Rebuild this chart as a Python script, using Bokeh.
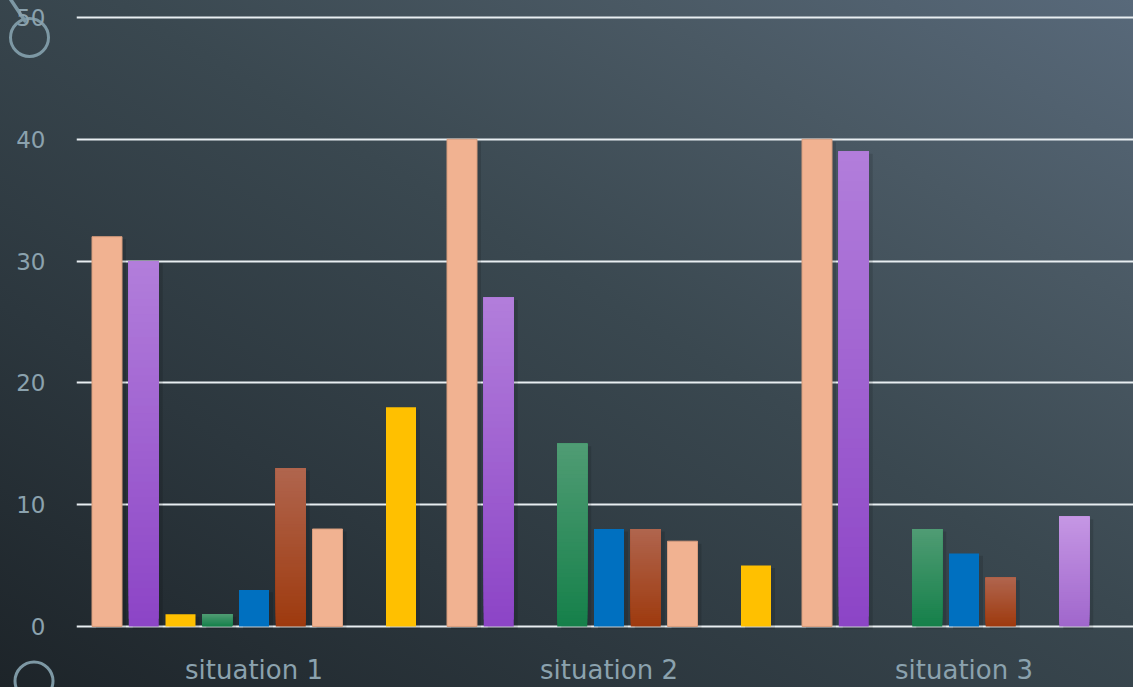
import numpy as np
from bokeh.plotting import figure
from bokeh.models import Range1d, FixedTicker, ColumnDataSource
from bokeh.embed import file_html
from bokeh.resources import INLINE

# ---- data -------------------------------------------------------------
categories = ["situation 1", "situation 2", "situation 3"]
series_1 = [32, 40, 40]
series_2 = [30, 27, 39]
series_3 = [1, 0, 0]
series_4 = [1, 15, 8]
series_5 = [3, 8, 6]
series_6 = [13, 8, 4]
series_7 = [8, 7, 0]
series_8 = [0, 0, 9]
series_9 = [18, 5, 0]
y_ticks = [0, 10, 20, 30, 40, 50]

all_series = [series_1, series_2, series_3, series_4, series_5,
              series_6, series_7, series_8, series_9]

# (bottom colour, top colour) for each series; equal pairs are flat fills
series_colors = [
    ("#f1b291", "#f1b291"),
    ("#8c44c6", "#b27edb"),
    ("#ffc000", "#ffc000"),
    ("#15804a", "#509c74"),
    ("#0070c0", "#0070c0"),
    ("#9e3a0e", "#b0654e"),
    ("#f1b291", "#f1b291"),
    ("#a066cc", "#c597e4"),
    ("#ffc000", "#ffc000"),
]
edge_colors = ["#d79c7d", None, None, None, None, None, "#d79c7d", None, None]

# ---- geometry -----------------------------------------------------------
W, H = 1133, 687
CAT_PX = 355.0                 # pixels per category
PX_PER_UNIT = 609.0 / 50.0     # pixels per value unit
PAD = 0.25                     # value-unit padding so 0 and 50 gridlines show
FRAME_LEFT = 76
FRAME_TOP = 17 - round(PAD * PX_PER_UNIT)
FRAME_BOTTOM = 61 - round(PAD * PX_PER_UNIT)
frame_h = H - FRAME_TOP - FRAME_BOTTOM
y_lo = -PAD
y_hi = y_lo + frame_h / PX_PER_UNIT

slot = 36.75 / CAT_PX
bar_w = 30.0 / CAT_PX
n_series = len(all_series)
cat_centers = [i + 0.5 for i in range(len(categories))]


def hex_to_rgb(h):
    h = h.lstrip("#")
    return np.array([int(h[i:i + 2], 16) for i in (0, 2, 4)], dtype=float)


def mix(c0, c1, t):
    a, b = hex_to_rgb(c0), hex_to_rgb(c1)
    r = a + (b - a) * t
    return "#%02x%02x%02x" % tuple(int(round(v)) for v in r)


p = figure(width=W, height=H, output_backend="svg", toolbar_location=None,
           x_range=Range1d(0, (W - FRAME_LEFT) / CAT_PX), y_range=Range1d(y_lo, y_hi),
           min_border_left=FRAME_LEFT, min_border_right=0,
           min_border_top=FRAME_TOP, min_border_bottom=FRAME_BOTTOM)

# slide backdrop: dark slate gradient with the template's ring ornaments
deco = "rgb(125,152,164)"
ornament_svg = (
    "data:image/svg+xml;utf8,"
    "<svg xmlns='http://www.w3.org/2000/svg' width='1133' height='687'>"
    f"<circle cx='29.5' cy='37.5' r='19' fill='none' stroke='{deco}' stroke-width='3'/>"
    f"<circle cx='34' cy='681' r='19' fill='none' stroke='{deco}' stroke-width='3'/>"
    f"<line x1='9' y1='-3' x2='25' y2='21' stroke='{deco}' stroke-width='3.5' stroke-linecap='round'/>"
    "</svg>"
)
p.styles = {
    "background-image": f'url("{ornament_svg}"), '
                        "linear-gradient(to top right, #1d2429 0%, #2c373e 28%, "
                        "#3a4850 55%, #4a5964 78%, #58697a 100%)",
    "background-repeat": "no-repeat",
}
p.background_fill_alpha = 0
p.border_fill_alpha = 0
p.outline_line_color = None

# gridlines
p.xgrid.grid_line_color = None
p.ygrid.ticker = FixedTicker(ticks=y_ticks)
p.ygrid.grid_line_color = "#e8eef1"
p.ygrid.grid_line_width = 2

# axes
label_color = "#8ba2ae"
p.yaxis.ticker = FixedTicker(ticks=y_ticks)
p.yaxis.axis_line_color = None
p.yaxis.major_tick_line_color = None
p.yaxis.minor_tick_line_color = None
p.yaxis.major_label_standoff = 25
p.yaxis.major_label_text_font = "DejaVu Sans"
p.yaxis.major_label_text_font_size = "23px"
p.yaxis.major_label_text_color = label_color

p.xaxis.ticker = FixedTicker(ticks=cat_centers)
p.xaxis.major_label_overrides = {c: name for c, name in zip(cat_centers, categories)}
p.xaxis.axis_line_color = None
p.xaxis.major_tick_line_color = None
p.xaxis.minor_tick_line_color = None
p.xaxis.major_label_standoff = 19
p.xaxis.major_label_text_font = "DejaVu Sans"
p.xaxis.major_label_text_font_size = "26px"
p.xaxis.major_label_text_color = label_color

# ---- bars ---------------------------------------------------------------
N_SLICES = 48
shadow_x, shadow_top = [], []
for j, values in enumerate(all_series):
    c_bot, c_top = series_colors[j]
    xs, bottoms, tops, colors = [], [], [], []
    for i, v in enumerate(values):
        if v <= 0:
            continue
        xc = cat_centers[i] + (j - (n_series - 1) / 2) * slot
        shadow_x.append(xc)
        shadow_top.append(v)
        if c_bot == c_top:
            xs.append(xc); bottoms.append(0); tops.append(v); colors.append(c_bot)
        else:
            # overlapping bands, each running to the bar's top, give a seamless gradient
            for k in range(N_SLICES):
                xs.append(xc)
                bottoms.append(v * k / N_SLICES)
                tops.append(v)
                colors.append(mix(c_bot, c_top, (k + 0.5) / N_SLICES))
    src = ColumnDataSource(dict(x=xs, bottom=bottoms, top=tops, color=colors))
    edge = edge_colors[j]
    p.vbar(x="x", width=bar_w, bottom="bottom", top="top", source=src,
           fill_color="color", line_color=edge, line_width=1)

# soft drop shadow to the right of each bar (drawn underneath)
sh = ColumnDataSource(dict(x=[x + 4 / CAT_PX for x in shadow_x],
                           top=[t - 0.2 for t in shadow_top]))
r_sh = p.vbar(x="x", width=bar_w, bottom=-0.3, top="top", source=sh,
              fill_color="#000000", fill_alpha=0.12, line_color=None)
p.renderers.remove(r_sh)
p.renderers.insert(0, r_sh)

open("out.html", "w").write(file_html(p, INLINE))
